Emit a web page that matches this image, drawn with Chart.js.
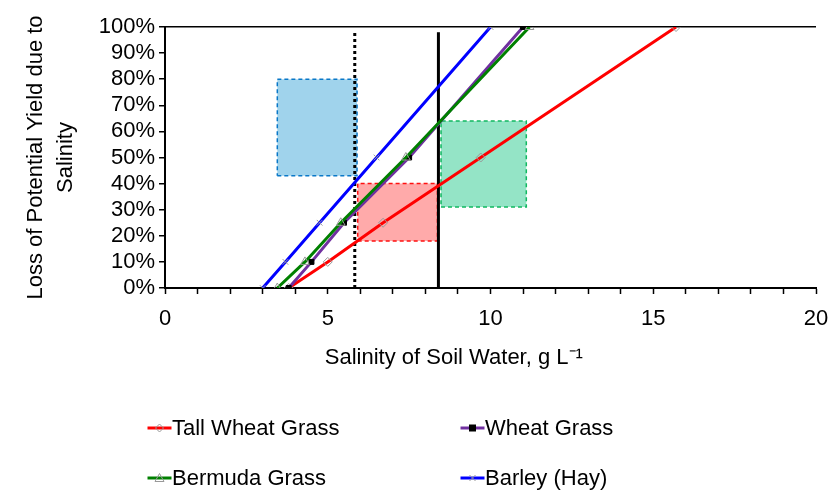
<!DOCTYPE html>
<html>
<head>
<meta charset="utf-8">
<script src="https://cdn.jsdelivr.net/npm/chart.js@4.4.1/dist/chart.umd.min.js"></script>
<style>
  html, body { margin: 0; padding: 0; background: #fff; }
  #wrap { position: relative; width: 829px; height: 493px; overflow: hidden; }
  #legend { position: absolute; left: 0; top: 0; width: 829px; height: 493px; font-family: Arial, "Liberation Sans", sans-serif; font-size: 22px; color: #000; pointer-events: none; }
  .item { position: absolute; display: flex; align-items: center; white-space: nowrap; height: 30px; }
  .item svg { display: block; }
</style>
</head>
<body>
<div id="wrap">
  <canvas id="lineChart" width="829" height="493"></canvas>
  <div id="legend"></div>
</div>
<script>
// loss of potential yield (%) at each point
const lossPct = [0, 10, 25, 50, 100];
// salinity of soil water (g/L) for each loss level
const tallWheatGrass = [3.8, 5.0, 6.7, 9.7, 15.7];
const wheatGrass = [3.8, 4.5, 5.5, 7.5, 11.0];
const bermudaGrass = [3.45, 4.3, 5.4, 7.4, 11.2];
const barleyHay = [3.0, 3.7, 4.75, 6.5, 10.0];
const seriesNames = ['Tall Wheat Grass', 'Wheat Grass', 'Bermuda Grass', 'Barley (Hay)'];

// reference lines
const dottedLineX = [5.83, 5.83];
const solidLineX = [8.4, 8.4];
const refLineY = [0, 98];

// shaded boxes [x1, x2] / [y1, y2]
const blueBoxX = [3.45, 5.9];
const blueBoxY = [43, 80];
const redBoxX = [5.92, 8.37];
const redBoxY = [18, 40];
const greenBoxX = [8.48, 11.1];
const greenBoxY = [31, 64];

const xTicks = [0, 5, 10, 15, 20];

const toPoints = (xs, ys) => xs.map((x, i) => ({ x, y: ys[i] }));
const rectPoints = (xs, ys) => [
  { x: xs[0], y: ys[0] }, { x: xs[1], y: ys[0] },
  { x: xs[1], y: ys[1] }, { x: xs[0], y: ys[1] }, { x: xs[0], y: ys[0] },
];

const boxSet = (xs, ys, fillColor, lineColor) => ({
  data: rectPoints(xs, ys),
  showLine: true,
  fill: 'shape',
  backgroundColor: fillColor,
  borderColor: lineColor,
  borderWidth: 1.5,
  borderDash: [4, 3],
  pointRadius: 0,
  order: 10,
});

const series = [
  { label: seriesNames[0], data: toPoints(tallWheatGrass, lossPct), color: '#ff0000', pointStyle: 'rectRot', radius: 4.5, pointBg: 'rgba(0,0,0,0)', pointBorder: '#999', order: 4 },
  { label: seriesNames[1], data: toPoints(wheatGrass, lossPct), color: '#7030a0', pointStyle: 'rect', radius: 3.5, pointBg: '#000', pointBorder: '#000', order: 3 },
  { label: seriesNames[2], data: toPoints(bermudaGrass, lossPct), color: '#008000', pointStyle: 'triangle', radius: 5, pointBg: 'rgba(0,0,0,0)', pointBorder: '#999', order: 2 },
  { label: seriesNames[3], data: toPoints(barleyHay, lossPct), color: '#0000ff', pointStyle: 'crossRot', radius: 4, pointBg: 'rgba(0,0,0,0)', pointBorder: '#999', order: 1 },
];

Chart.defaults.font.family = 'Arial, "Liberation Sans", sans-serif';
Chart.defaults.font.size = 22;
Chart.defaults.color = '#000';

const chart = new Chart(document.getElementById('lineChart'), {
  type: 'scatter',
  data: {
    datasets: [
      boxSet(blueBoxX, blueBoxY, 'rgb(160,211,236)', '#0a78c8'),
      boxSet(redBoxX, redBoxY, 'rgb(255,170,170)', '#ff1010'),
      boxSet(greenBoxX, greenBoxY, 'rgb(148,228,198)', '#10b860'),
      ...series.map(s => ({
        label: s.label,
        data: s.data,
        showLine: true,
        borderColor: s.color,
        borderWidth: 3,
        backgroundColor: s.pointBg,
        pointStyle: s.pointStyle,
        pointRadius: s.radius,
        pointBorderColor: s.pointBorder,
        pointBackgroundColor: s.pointBg,
        pointBorderWidth: 1,
        order: s.order,
      })),
      {
        data: toPoints(dottedLineX, refLineY),
        showLine: true,
        borderColor: '#000',
        borderWidth: 3,
        borderDash: [3, 3],
        pointRadius: 0,
        order: 5,
      },
      {
        data: toPoints(solidLineX, refLineY),
        showLine: true,
        borderColor: '#000',
        borderWidth: 3,
        pointRadius: 0,
        order: 5,
      },
    ],
  },
  options: {
    responsive: false,
    animation: false,
    layout: { padding: { top: 27, right: 13, bottom: 110, left: 0 } },
    plugins: { legend: { display: false }, tooltip: { enabled: false } },
    scales: {
      x: {
        type: 'linear',
        min: 0,
        max: 20,
        afterFit: scale => {
          scale.height = 95;
          scale.paddingLeft = 0;
          scale.paddingRight = 0;
        },
        afterBuildTicks: scale => {
          scale.ticks = Array.from({ length: 21 }, (_, i) => ({ value: i }));
        },
        ticks: {
          autoSkip: false,
          maxRotation: 0,
          padding: 12,
          callback: v => (xTicks.includes(v) ? String(v) : ''),
        },
        grid: { drawOnChartArea: false, drawTicks: true, tickLength: 6, tickColor: '#000', tickWidth: 1.5 },
        border: { color: '#000', width: 2 },
        title: {
          display: true,
          // trailing spaces pull the title left like in the original
          text: 'Salinity of Soil Water, g L⁻¹' + '\u00a0'.repeat(12),
          padding: { top: 0, bottom: 12 },
        },
      },
      y: {
        min: 0,
        max: 100,
        afterFit: scale => { scale.width = 165; },
        ticks: { stepSize: 10, autoSkip: false, padding: 4, callback: v => v + '%' },
        grid: {
          drawTicks: true,
          tickLength: 6,
          tickColor: '#000',
          tickWidth: 1.5,
          lineWidth: 1.5,
          color: ctx => (ctx.tick && ctx.tick.value === 100 ? '#000' : 'rgba(0,0,0,0)'),
        },
        border: { color: '#000', width: 2 },
        title: {
          display: true,
          text: ['Loss of Potential Yield due to', 'Salinity'],
          font: { size: 22, lineHeight: 1.36 },
          padding: { top: 21, bottom: 0 },
        },
      },
    },
  },
});

// legend in two columns, matching the original layout
const legendPos = [
  { left: 147, top: 413 }, { left: 460, top: 413 },
  { left: 147, top: 463 }, { left: 460, top: 463 },
];
const markerSvg = s => {
  let m = '';
  if (s.pointStyle === 'rectRot') m = '<polygon points="12,2 16,6 12,10 8,6" fill="none" stroke="#999" stroke-width="1"/>';
  if (s.pointStyle === 'rect') m = '<rect x="8.5" y="2.5" width="7" height="7" fill="#000"/>';
  if (s.pointStyle === 'triangle') m = '<polygon points="12,1.5 16.5,9.5 7.5,9.5" fill="none" stroke="#999" stroke-width="1"/>';
  if (s.pointStyle === 'crossRot') m = '<path d="M9,3 L15,9 M15,3 L9,9" stroke="#999" stroke-width="1"/>';
  return '<svg width="25" height="12" viewBox="0 0 24 12"><line x1="0" y1="6" x2="24" y2="6" stroke="' + s.color + '" stroke-width="3"/>' + m + '</svg>';
};
const legendEl = document.getElementById('legend');
series.forEach((s, i) => {
  const div = document.createElement('div');
  div.className = 'item';
  div.style.left = legendPos[i].left + 'px';
  div.style.top = legendPos[i].top + 'px';
  div.innerHTML = markerSvg(s) + '<span>' + s.label + '</span>';
  legendEl.appendChild(div);
});
</script>
</body>
</html>
